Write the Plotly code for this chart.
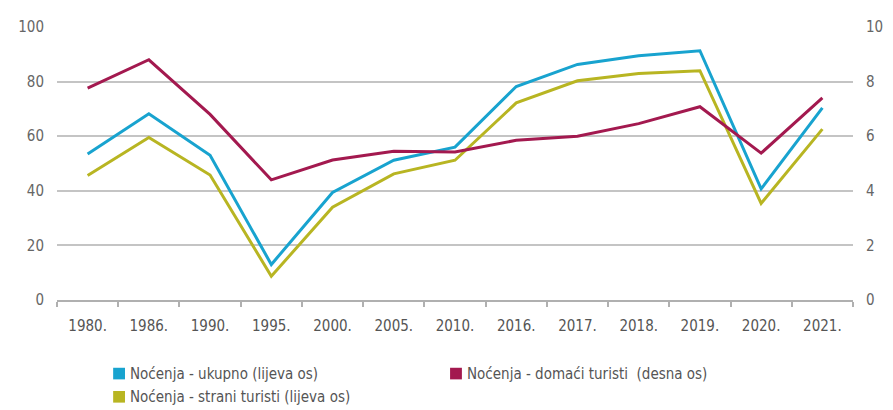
import plotly.graph_objects as go

years = ["1980.", "1986.", "1990.", "1995.", "2000.", "2005.", "2010.",
         "2016.", "2017.", "2018.", "2019.", "2020.", "2021."]
ukupno = [53.5, 68.2, 53.0, 13.0, 39.4, 51.2, 56.0, 78.2, 86.3, 89.5, 91.3, 40.7, 70.4]
strani = [45.6, 59.5, 45.8, 8.7, 34.0, 46.2, 51.2, 72.2, 80.3, 83.0, 84.0, 35.4, 62.6]
domaci = [7.76, 8.8, 6.8, 4.4, 5.13, 5.45, 5.42, 5.85, 6.0, 6.46, 7.08, 5.38, 7.4]

names = ["Noćenja - ukupno (lijeva os)",
         "Noćenja - domaći turisti  (desna os)",
         "Noćenja - strani turisti (lijeva os)"]
colors = ["#18a3cf", "#a3194f", "#b8b522"]

FONT = "DejaVu Sans Condensed, Liberation Sans Narrow, sans-serif"

OFF = 8
W, H = 893 - OFF, 410 - OFF
L, T = 56 - OFF, 10
R = 29
B = H - (300 - OFF)
pw, ph = W - L - R, H - T - B

fig = go.Figure()
fig.add_trace(go.Scatter(x=years, y=ukupno, mode="lines", line=dict(color=colors[0], width=3),
                         name=names[0], showlegend=False, yaxis="y"))
fig.add_trace(go.Scatter(x=years, y=strani, mode="lines", line=dict(color=colors[2], width=3),
                         name=names[2], showlegend=False, yaxis="y"))
fig.add_trace(go.Scatter(x=years, y=domaci, mode="lines", line=dict(color=colors[1], width=3),
                         name=names[1], showlegend=False, yaxis="y2"))

def px(x):
    return (x - OFF - L) / pw
def py(y):
    return (H - B - (y - OFF)) / ph

legend_pos = [(113, 376), (455, 376), (113, 400)]
for (lx, ly), nm, c in zip(legend_pos, names, colors):
    fig.add_shape(type="rect", xref="paper", yref="paper",
                  x0=px(lx), x1=px(lx + 12), y0=py(ly + 6), y1=py(ly - 6),
                  fillcolor=c, line=dict(width=0))
    fig.add_annotation(xref="paper", yref="paper", x=px(lx + 15), y=py(ly),
                       text=nm, showarrow=False, xanchor="left", yanchor="middle",
                       font=dict(size=15, color="#555555"))

fig.update_layout(
    width=W, height=H,
    margin=dict(l=L, r=R, t=T, b=B),
    paper_bgcolor="white", plot_bgcolor="white",
    font=dict(family=FONT, size=15, color="#666666"),
    showlegend=False,
    xaxis=dict(
        type="category", showgrid=False, showline=True, linecolor="#b0b0b0", linewidth=1.5,
        ticks="outside", tickson="boundaries", ticklen=5, tickcolor="#b0b0b0", tickwidth=1.5,
        tickfont=dict(size=15, color="#555555"), range=[-0.5, 12.5],
        ticklabelstandoff=11,
    ),
    yaxis=dict(
        range=[0, 100], dtick=20, showgrid=True, gridcolor="#c4c4c4", gridwidth=1.5,
        zeroline=False, showline=False, ticks="", tickfont=dict(size=15, color="#666666"),
        ticklabelstandoff=12,
    ),
    yaxis2=dict(
        range=[0, 10], dtick=2, overlaying="y", side="right", showgrid=False,
        zeroline=False, showline=False, tickfont=dict(size=15, color="#666666"),
        ticklabelstandoff=12,
    ),
)

fig.write_html("out.html")
